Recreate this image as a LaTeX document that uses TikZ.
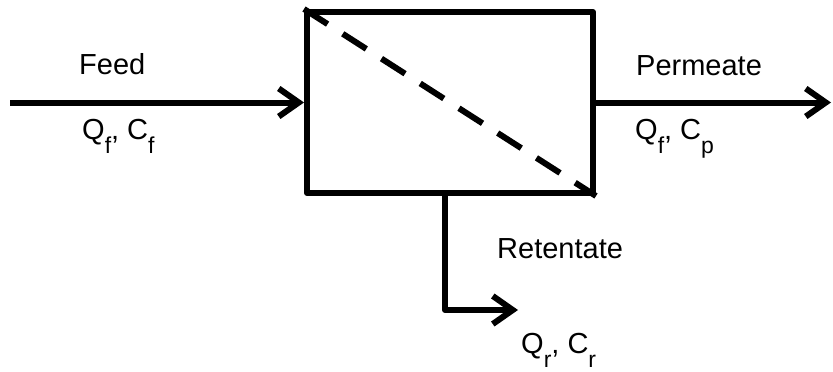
\documentclass[tikz,border=0pt]{standalone}
\usepackage{fontspec}
\setmainfont{Liberation Sans}
\usetikzlibrary{arrows.meta}
% lowered, smaller index letter
\newcommand\lowidx[1]{\raisebox{-14pt}{\fontsize{23}{23}\selectfont #1}}
\tikzset{
  unit/.style={draw, line width=6pt, line join=round, rectangle, inner sep=0pt,
               minimum width=286pt, minimum height=181pt},
  flow/.style={line width=6pt, line join=round,
               -{Straight Barb[length=20pt, width=28pt, line join=miter]}},
  membrane/.style={line width=6pt, dash pattern=on 28pt off 18pt},
  lbl/.style={anchor=base west, inner sep=0pt, font=\fontsize{29}{34}\selectfont}
}
\begin{document}
\begin{tikzpicture}[x=1pt, y=-1pt]
  \useasboundingbox (0,0) rectangle (833,372);

  % separation unit with its membrane
  \node[unit] (box) at (450,102.5) {};
  \draw[membrane] (box.north west) -- (box.south east);

  % feed stream
  \coordinate (feedin) at (10,102.5);
  \draw[flow] (feedin) -- (box.west);

  % permeate stream
  \coordinate (permout) at (831,102.5);
  \draw[flow] (box.east) -- (permout);

  % retentate stream
  \coordinate (retbend) at (445,310);
  \coordinate (retout) at (518,310);
  \draw[flow] (box.south -| retbend) -- (retbend) -- (retout);

  % labels
  \node[lbl] (feed) at (79,74) {Feed};
  \node[lbl] (feedqc) at (82,139) {Q\lowidx{f}, C\lowidx{f}};
  \node[lbl] (perm) at (636,75) {Permeate};
  \node[lbl] (permqc) at (635,139) {Q\lowidx{f}, C\lowidx{p}};
  \node[lbl] (ret) at (497,258) {Retentate};
  \node[lbl] (retqc) at (521,353) {Q\lowidx{r}, C\lowidx{r}};
\end{tikzpicture}
\end{document}
